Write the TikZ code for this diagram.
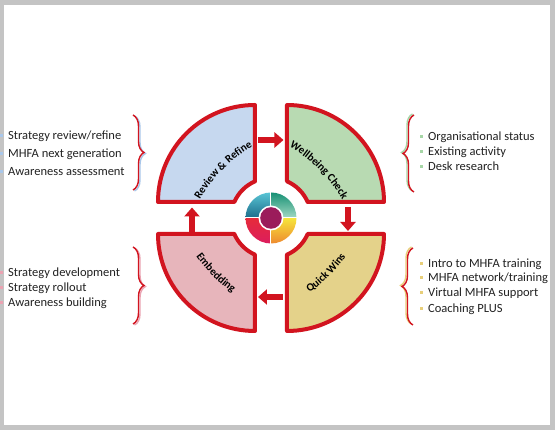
\documentclass[tikz,border=0pt]{standalone}
\usepackage{fontspec}
\setmainfont{Carlito}
\usetikzlibrary{arrows.meta,positioning,decorations.pathreplacing,decorations.text}
\definecolor{framegray}{HTML}{C4C4C4}
\definecolor{ringred}{HTML}{D2141F}
\definecolor{inktext}{HTML}{222222}
\definecolor{qblue}{HTML}{C6D8EF}
\definecolor{qgreen}{HTML}{B8DAB2}
\definecolor{qyellow}{HTML}{E4D28A}
\definecolor{qpink}{HTML}{E7B5BB}
\definecolor{dotblue}{HTML}{A9C7EA}
\definecolor{dotgreen}{HTML}{A6D6A6}
\definecolor{dotyellow}{HTML}{E8CF7A}
\definecolor{dotpink}{HTML}{EBA3B2}
\definecolor{tealtop}{HTML}{58C4D4}
\definecolor{tealbot}{HTML}{1D6C8A}
\definecolor{greentop}{HTML}{179175}
\definecolor{greenbot}{HTML}{A2D9C3}
\definecolor{redtop}{HTML}{E62B3A}
\definecolor{redbot}{HTML}{DC1D5E}
\definecolor{yellowtop}{HTML}{F6E53B}
\definecolor{yellowbot}{HTML}{EE8A2F}
\definecolor{plum}{HTML}{9B1C5B}
\newcommand\qlabel{\bfseries\fontsize{11}{13}\selectfont}

\begin{document}
\begin{tikzpicture}[x=1pt,y=1pt,font=\fontsize{12.5}{14}\selectfont,
  qpatch/.style={draw=ringred,line width=4pt,line join=round},
  flowarrow/.style={draw=ringred,line width=5.5pt,-{Triangle[width=15pt,length=9pt]}},
  itemtext/.style={anchor=base west,inner sep=0pt,text=inktext},
  itembullet/.style={inner sep=0pt,minimum size=3pt},
  curlybrace/.style={decorate,decoration={brace,amplitude=11pt},line width=1.4pt},
  arclabel/.style={decorate,decoration={text along path,text align=center,text={|\qlabel|#1}}}]
\useasboundingbox (-271,-212) rectangle (284,218);
\fill[framegray] (-271,-212) rectangle (284,218);
\fill[white] (-267,-207) rectangle (279,213);
\foreach \rot/\col in {0/qblue,-90/qgreen,-180/qyellow,-270/qpink}{\draw[qpatch,fill=\col,rotate=\rot] (-16,36.66) -- (-16,113) arc[start angle=90,end angle=180,radius=97] -- (-36.66,16) arc[start angle=156.42,end angle=113.58,radius=40] -- cycle;}
\path[arclabel={Review {\&} Refine}] (55,-55) ++(160:146) arc[start angle=160,end angle=110,radius=146];
\path[arclabel={Wellbeing Check}] (-55,-55) ++(70:146) arc[start angle=70,end angle=20,radius=146];
\path[arclabel={Quick Wins}] (-55,55) ++(-70:160) arc[start angle=-70,end angle=-20,radius=160];
\path[arclabel={Embedding}] (55,55) ++(200:160) arc[start angle=200,end angle=250,radius=160];
\foreach \a/\tc/\bc in {90/tealtop/tealbot,0/greentop/greenbot,180/redtop/redbot,270/yellowtop/yellowbot}{\shade[top color=\tc,bottom color=\bc] (0,0) -- (\a:25.5) arc[start angle=\a,delta angle=90,radius=25.5] -- cycle;}
\fill[white] (0,0) circle (12.5);
\fill[plum] (0,0) circle (10.8);
\foreach \a in {0,90,180,270}{\draw[white,line width=1pt] (\a:12) -- (\a:26);}
\coordinate (rrEnd) at (-13,78);
\coordinate (wcStart) at (12.5,78);
\coordinate (wcEnd) at (77,11);
\coordinate (qwStart) at (77,-13);
\coordinate (qwEnd) at (12,-79);
\coordinate (emStart) at (-13,-79);
\coordinate (emEnd) at (-79,-14);
\coordinate (rrStart) at (-79,10.5);
\draw[flowarrow] (rrEnd) -- (wcStart);
\draw[flowarrow] (wcEnd) -- (qwStart);
\draw[flowarrow] (qwEnd) -- (emStart);
\draw[flowarrow] (emEnd) -- (rrStart);
\draw[curlybrace,dotblue] (-136.5,102) -- (-136.5,27);
\draw[curlybrace,ringred] (-138,103) -- (-138,28);
\draw[curlybrace,dotpink] (-136.5,-30) -- (-136.5,-107);
\draw[curlybrace,ringred] (-138,-29) -- (-138,-106);
\draw[curlybrace,dotgreen] (141.5,27) -- (141.5,104);
\draw[curlybrace,ringred] (143,26) -- (143,103);
\draw[curlybrace,dotyellow] (140.5,-106) -- (140.5,-29);
\draw[curlybrace,ringred] (142,-107) -- (142,-30);
\foreach \y/\lab [count=\i] in {78/{Strategy review/refine},60/MHFA next generation,42/Awareness assessment}{
  \node[itembullet,fill=dotblue] (lb\i) at (-269.5,\y+4) {};
  \node[itemtext] (lt\i) at (-263,\y) {\lab};}
\foreach \y/\lab [count=\i] in {-58.7/Strategy development,-73.3/Strategy rollout,-88.3/Awareness building}{
  \node[itembullet,fill=dotpink] (ub\i) at (-269.5,\y+4) {};
  \node[itemtext] (ut\i) at (-263,\y) {\lab};}
\foreach \y/\lab [count=\i] in {77/Organisational status,62/Existing activity,47/Desk research}{
  \node[itembullet,fill=dotgreen] (gb\i) at (151,\y+4) {};
  \node[itemtext] (gt\i) at (157,\y) {\lab};}
\foreach \y/\lab [count=\i] in {-49.3/Intro to MHFA training,-63.7/{MHFA network/training},-78.7/Virtual MHFA support,-94.3/Coaching PLUS}{
  \node[itembullet,fill=dotyellow] (yb\i) at (151,\y+4) {};
  \node[itemtext] (yt\i) at (157,\y) {\lab};}
\end{tikzpicture}
\end{document}
